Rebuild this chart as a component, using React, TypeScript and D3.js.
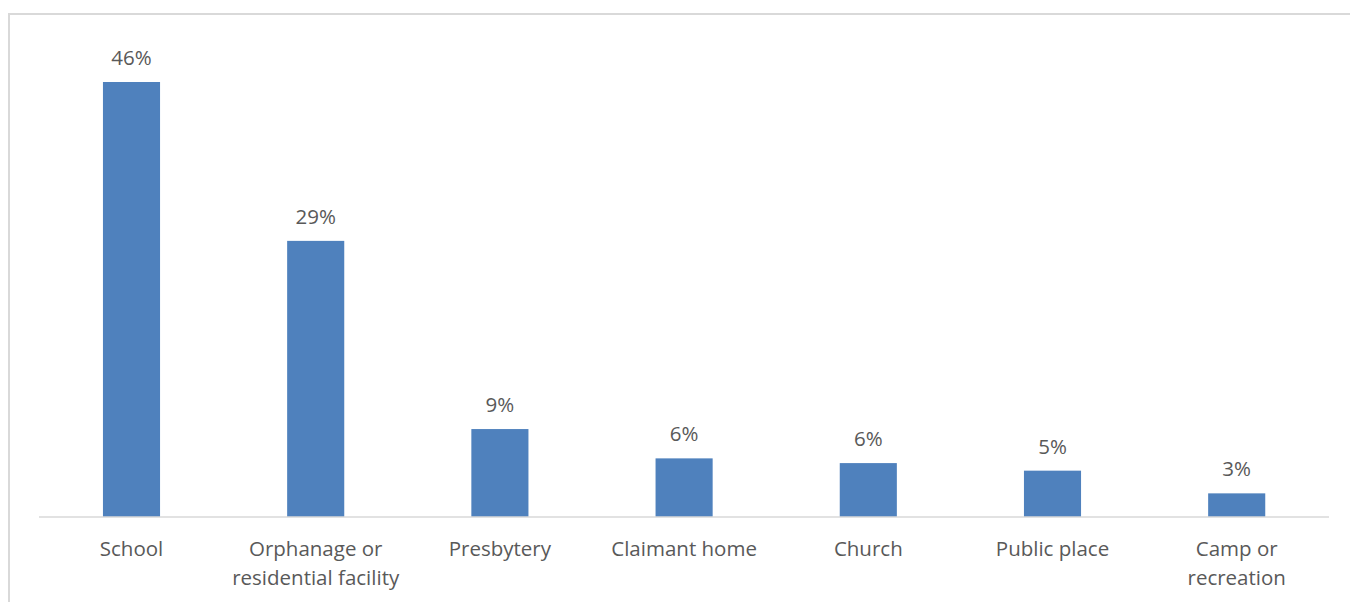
import React from "react";
import * as d3 from "d3";

const categories = [
  ["School"],
  ["Orphanage or", "residential facility"],
  ["Presbytery"],
  ["Claimant home"],
  ["Church"],
  ["Public place"],
  ["Camp or", "recreation"],
];
const values = [46, 29.2, 9.3, 6.2, 5.7, 4.9, 2.5];
const valueLabels = ["46%", "29%", "9%", "6%", "6%", "5%", "3%"];

const width = 1350;
const height = 602;
const baseline = 517;

export default function App() {
  const x = d3
    .scaleBand<number>()
    .domain(values.map((_, i) => i))
    .range([39.4, 1328.8])
    .paddingInner(0.69)
    .paddingOuter(0.345);

  const y = d3.scaleLinear().domain([0, 46]).range([baseline, 82]);

  const font = "'Open Sans', sans-serif";

  return (
    <div style={{ position: "fixed", left: 0, top: 0 }}>
      <svg width={width} height={height} style={{ display: "block" }}>
        <rect width={width} height={height} fill="#fff" />
        <rect x={9} y={14} width={width + 20} height={height + 20} fill="none" stroke="#d9d9d9" strokeWidth={2} />
        {values.map((v, i) => (
          <rect
            key={i}
            x={x(i)!}
            y={y(v)}
            width={x.bandwidth()}
            height={baseline - y(v)}
            fill="#4f81bd"
          />
        ))}
        <line x1={39} x2={1329} y1={baseline} y2={baseline} stroke="#d9d9d9" strokeWidth={1.5} />
        {values.map((v, i) => (
          <text
            key={i}
            x={x(i)! + x.bandwidth() / 2}
            y={y(v) - 17}
            textAnchor="middle"
            fontFamily={font}
            fontSize={20.5}
            fill="#595959"
          >
            {valueLabels[i]}
          </text>
        ))}
        {categories.map((lines, i) => (
          <text
            key={i}
            x={x(i)! + x.bandwidth() / 2}
            y={556}
            textAnchor="middle"
            fontFamily={font}
            fontSize={20.5}
            fill="#595959"
          >
            {lines.map((l, j) => (
              <tspan key={j} x={x(i)! + x.bandwidth() / 2} dy={j === 0 ? 0 : 29}>
                {l}
              </tspan>
            ))}
          </text>
        ))}
      </svg>
    </div>
  );
}
